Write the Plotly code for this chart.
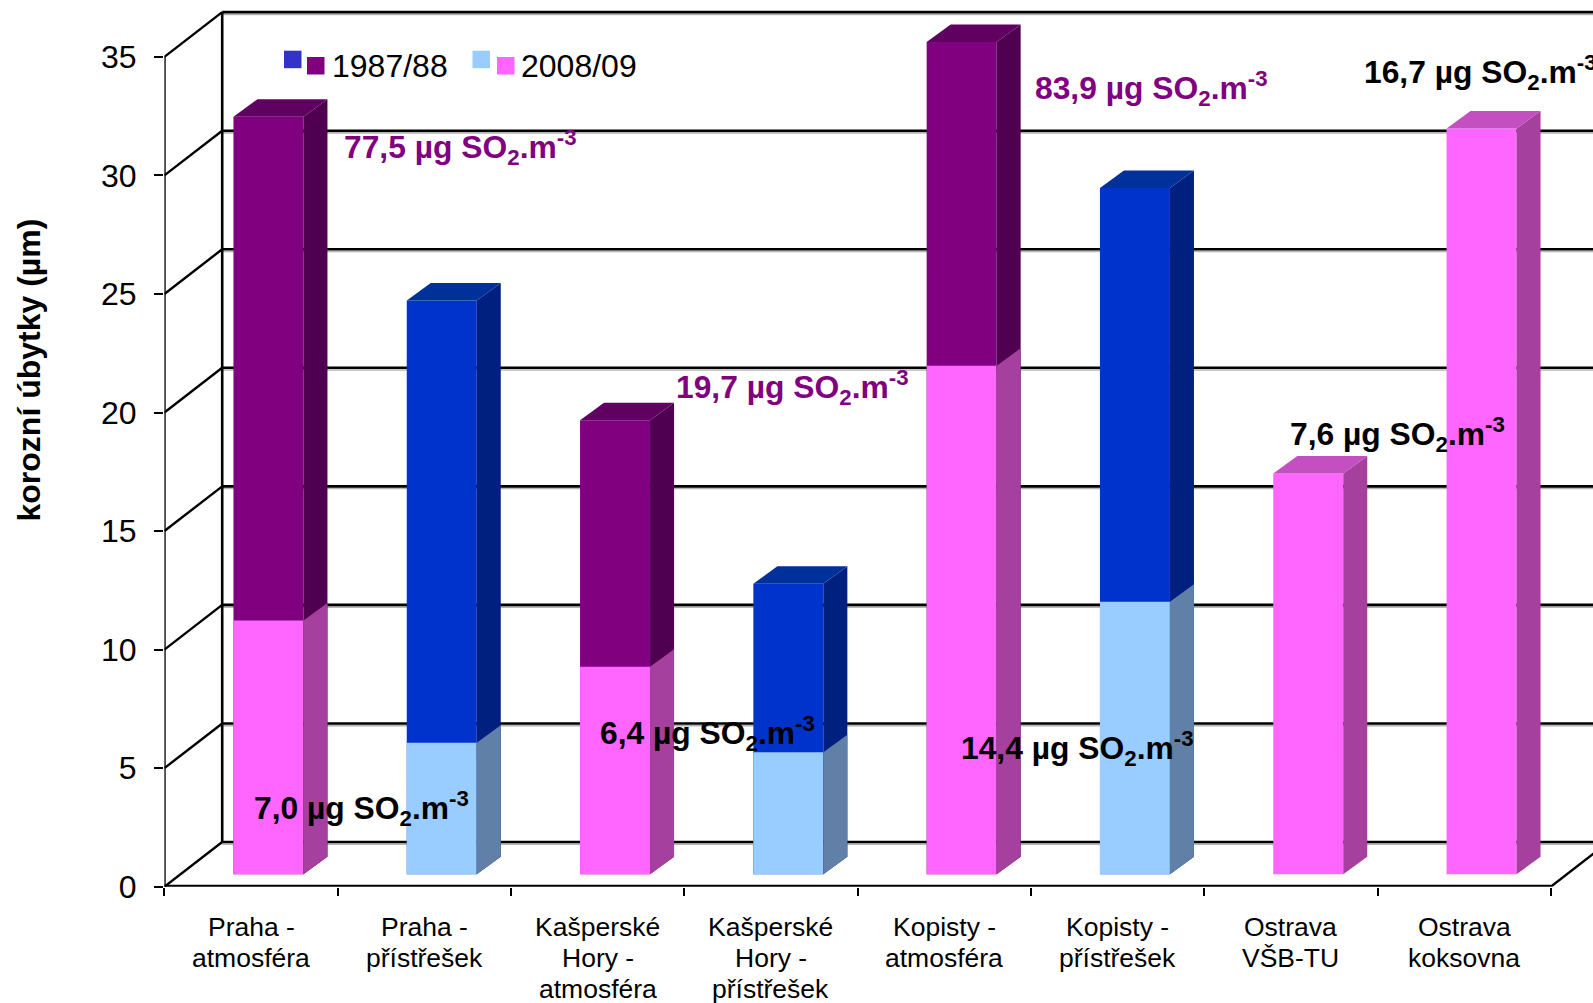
import plotly.graph_objects as go

# ---- data ----
label_lines = [["Praha -", "atmosféra"], ["Praha -", "přístřešek"],
               ["Kašperské", "Hory -", "atmosféra"], ["Kašperské", "Hory -", "přístřešek"],
               ["Kopisty -", "atmosféra"], ["Kopisty -", "přístřešek"],
               ["Ostrava", "VŠB-TU"], ["Ostrava", "koksovna"]]
loss_1987 = [31.95, 24.2, 19.15, 12.25, 35.1, 28.95, None, None]
loss_2008 = [10.7, 5.55, 8.75, 5.15, 21.45, 11.5, 16.9, 31.45]
sheltered = [False, True, False, True, False, True, False, False]
y_ticks = [0, 5, 10, 15, 20, 25, 30, 35]
notes = [("77,5", "#800080", 342, 148), ("83,9", "#800080", 1033, 89), ("19,7", "#800080", 674, 387),
         ("7,6", "#000000", 1288, 434), ("16,7", "#000000", 1362, 72), ("6,4", "#000000", 598, 733),
         ("14,4", "#000000", 959, 748), ("7,0", "#000000", 252, 808)]

# ---- chart geometry (pixels of the 1593x1003 page) ----
W, H = 1593, 1003
AX_L, AX_B = 164.4, 886.7     # origin of the front plane
CAT_W, UNIT = 173.3, 23.71    # pixels per category, pixels per value unit
WALL_DX, WALL_DY = 57.8 / CAT_W, 44.7 / UNIT   # floor depth in data units
BAR_SHIFT, BAR_BASE = 17.4 / CAT_W, 12.4 / UNIT
BAR_W = 70 / CAT_W
SIDE_DX, SIDE_DY = 24 / CAT_W, 17.5 / UNIT
X0 = 0.5
X1 = X0 + (W - AX_L) / CAT_W
Y1 = AX_B / UNIT
LAST = X0 + len(label_lines)

FRONT = {"old": "#800080", "old_s": "#0033CC", "new": "#FF66FF", "new_s": "#99CCFF"}
SIDE = {"old": "#500050", "old_s": "#002080", "new": "#A6409F", "new_s": "#6080A8"}
TOP = {"old": "#600060", "old_s": "#00309A", "new": "#C44FC0", "new_s": "#7FA8D8"}


def px(x):
    return x / W


def py(y):
    return 1 - y / H


fig = go.Figure()
positions = list(range(1, len(label_lines) + 1))


def key(era, s):
    return era + ("_s" if s else "")


# side faces, 1987 first so that the 2008 part covers its lower end
for era, vals in (("old", loss_1987), ("new", loss_2008)):
    for flag in (False, True):
        xs, ys = [], []
        for p, v, s in zip(positions, vals, sheltered):
            if v is None or s != flag:
                continue
            xr = p + BAR_SHIFT + BAR_W / 2
            xs += [xr, xr + SIDE_DX, xr + SIDE_DX, xr, xr, None]
            ys += [BAR_BASE, BAR_BASE + SIDE_DY, BAR_BASE + v + SIDE_DY, BAR_BASE + v, BAR_BASE, None]
        if xs:
            fig.add_trace(go.Scatter(x=xs, y=ys, mode="lines", fill="toself", line_width=0,
                                     fillcolor=SIDE[key(era, flag)], hoverinfo="skip", showlegend=False))

# top faces: colour of whichever part is the highest
for p, o, n, s in zip(positions, loss_1987, loss_2008, sheltered):
    era, v = ("old", o) if o is not None else ("new", n)
    xl = p + BAR_SHIFT - BAR_W / 2
    xr = xl + BAR_W
    t = BAR_BASE + v
    fig.add_trace(go.Scatter(x=[xl, xl + SIDE_DX, xr + SIDE_DX, xr, xl],
                             y=[t, t + SIDE_DY, t + SIDE_DY, t, t], mode="lines", fill="toself",
                             line_width=0, fillcolor=TOP[key(era, s)], hoverinfo="skip", showlegend=False))

# front faces
fig.add_trace(go.Bar(x=[p + BAR_SHIFT for p in positions], y=loss_1987, base=BAR_BASE, width=BAR_W,
                     name="1987/88", marker=dict(color=[FRONT[key("old", s)] for s in sheltered], line_width=0),
                     showlegend=False))
fig.add_trace(go.Bar(x=[p + BAR_SHIFT for p in positions], y=loss_2008, base=BAR_BASE, width=BAR_W,
                     name="2008/09", marker=dict(color=[FRONT[key("new", s)] for s in sheltered], line_width=0),
                     showlegend=False))

# ---- walls: shapes below the traces ----
shapes = []


def seg(x0, y0, x1, y1, color="#000000", width=2.4):
    shapes.append(dict(type="line", xref="x", yref="y", layer="below", x0=x0, y0=y0, x1=x1, y1=y1,
                       line=dict(color=color, width=width)))


SH = 2.2 / UNIT
for v in y_ticks:
    seg(X0 + WALL_DX, v + WALL_DY - SH, X1, v + WALL_DY - SH, "#B4B4B4", 1.6)
    seg(X0 + WALL_DX, v + WALL_DY, X1, v + WALL_DY, "#000000", 2.6)
    seg(X0, v, X0 + WALL_DX, v + WALL_DY, "#000000", 2.4)
seg(X0, 0, X0, y_ticks[-1], "#000000", 2.6)
seg(X0 + WALL_DX, WALL_DY, X0 + WALL_DX, y_ticks[-1] + WALL_DY, "#000000", 2.6)
seg(X0, 0.02, LAST, 0.02, "#000000", 2.8)
seg(LAST, 0, LAST + WALL_DX, WALL_DY, "#000000", 2.4)

# legend swatches
for x0, y0, color in ((284, 50.7, "#3333CC"), (307, 57, "#800080"), (472.5, 50.7, "#99CCFF"), (497, 57, "#FF66FF")):
    shapes.append(dict(type="rect", xref="paper", yref="paper", x0=px(x0), x1=px(x0 + 17.5), y0=py(y0),
                       y1=py(y0 + 17.5), line_width=0, fillcolor=color, layer="above"))

# ---- text ----
ann = []
for p, lines in zip(positions, label_lines):
    for i, line in enumerate(lines):
        ann.append(dict(x=p, y=0, xref="x", yref="y", text=line, showarrow=False, xanchor="center",
                        yanchor="middle", yshift=-(40 + 30.9 * i),
                        font=dict(family="Liberation Sans, Arial", size=26.5, color="#000000")))
for value, color, x, y in notes:
    ann.append(dict(x=px(x), y=py(y), xref="paper", yref="paper", xanchor="left", yanchor="middle",
                    showarrow=False, align="left", text=f"<b>{value} µg SO<sub>2</sub>.m<sup>-3</sup></b>",
                    font=dict(family="Liberation Sans, Arial", size=31.8, color=color)))
for text, x in (("1987/88", 330), ("2008/09", 518.5)):
    ann.append(dict(x=px(x), y=py(66), xref="paper", yref="paper", xanchor="left", yanchor="middle",
                    showarrow=False, text=text, font=dict(family="Liberation Sans, Arial", size=32, color="#000000")))
ann.append(dict(x=px(28.5), y=py(370), xref="paper", yref="paper", xanchor="center", yanchor="middle",
                showarrow=False, textangle=-90, text="<b>korozní úbytky (µm)</b>",
                font=dict(family="Liberation Sans, Arial", size=32, color="#000000")))

fig.update_layout(
    width=W, height=H, autosize=False, margin=dict(l=0, r=0, t=0, b=0, pad=0),
    paper_bgcolor="#FFFFFF", plot_bgcolor="#FFFFFF", barmode="overlay", showlegend=False,
    shapes=shapes, annotations=ann,
    font=dict(family="Liberation Sans, Arial", color="#000000"),
    xaxis=dict(domain=[px(AX_L), 1], range=[X0, X1], showgrid=False, zeroline=False, showline=False,
               automargin=False, tickmode="array", tickvals=[X0 + i for i in range(len(label_lines) + 1)],
               showticklabels=False, ticks="outside", ticklen=8, tickwidth=2.4, tickcolor="#000000"),
    yaxis=dict(domain=[py(AX_B), 1], range=[0, Y1], showgrid=False, zeroline=False, showline=False,
               automargin=False, tickmode="array", tickvals=y_ticks, ticktext=[str(v) for v in y_ticks],
               ticks="outside", ticklen=9.4, tickwidth=2.4, tickcolor="#000000", ticklabelstandoff=11,
               tickfont=dict(family="Liberation Sans, Arial", size=32, color="#000000")),
)

fig.write_html("out.html", config={"displayModeBar": False}, post_script="document.body.style.margin='0';")
